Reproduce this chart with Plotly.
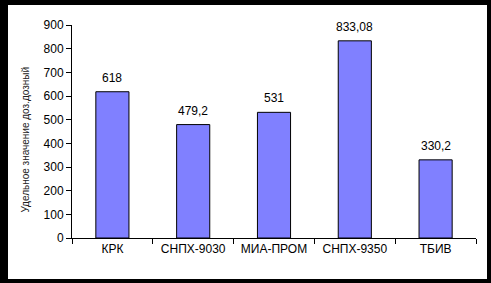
import plotly.graph_objects as go

categories = ["КРК", "СНПХ-9030", "МИА-ПРОМ", "СНПХ-9350", "ТБИВ"]
values = [618, 479.2, 531, 833.08, 330.2]
value_labels = ["618", "479,2", "531", "833,08", "330,2"]
y_ticks = [0, 100, 200, 300, 400, 500, 600, 700, 800, 900]
y_title = "Удельное значение доз.дозный"

W, H = 491, 283
ml, mr, mt, mb = 72, 15, 25, 45

fig = go.Figure(go.Bar(
    x=categories, y=values,
    marker=dict(color="#8080FF", line=dict(color="black", width=1)),
))

for c, v, t in zip(categories, values, value_labels):
    fig.add_annotation(x=c, y=v, text=t, showarrow=False,
                       yanchor="bottom", yshift=5,
                       font=dict(family="Liberation Sans, Arial", size=12, color="black"))

pw = W - ml - mr
ph = H - mt - mb
# white inner frame on black page
x0 = (8 - ml) / pw
x1 = (487 - ml) / pw
y1 = (H - 5 - mb) / ph
y0 = (H - 279 - mb) / ph

fig.add_shape(type="rect", xref="paper", yref="paper",
              x0=x0, x1=x1, y0=y0, y1=y1,
              fillcolor="white", line=dict(width=0), layer="below")

fig.add_annotation(text=y_title, xref="paper", yref="paper",
                   x=(17 - ml) / pw, y=(H - 140 - mb) / ph,
                   textangle=-90, showarrow=False,
                   font=dict(family="Liberation Sans, Arial", size=10, color="#222222"))

fig.update_layout(
    width=W, height=H,
    margin=dict(l=ml, r=mr, t=mt, b=mb),
    paper_bgcolor="black", plot_bgcolor="white",
    bargap=0.59, showlegend=False,
    font=dict(family="Liberation Sans, Arial", size=12, color="black"),
)
fig.update_xaxes(showline=True, linecolor="black", linewidth=1,
                 ticks="outside", tickson="boundaries", ticklen=5,
                 tickcolor="black", showgrid=False,
                 tickfont=dict(size=12, color="black"))
fig.update_yaxes(range=[0, 900], tickvals=y_ticks, showline=True,
                 linecolor="black", linewidth=1, ticks="outside",
                 ticklen=5, tickcolor="black", showgrid=False,
                 zeroline=False, tickfont=dict(size=12, color="black"))

fig.write_html("out.html")
